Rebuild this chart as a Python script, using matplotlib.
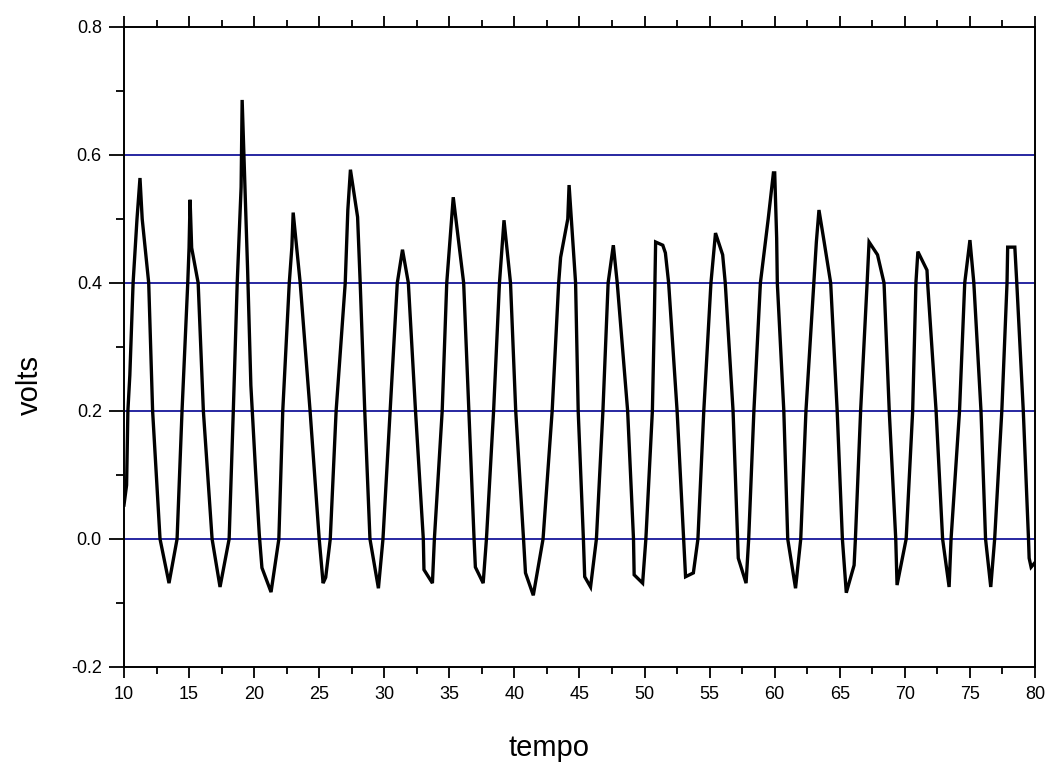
import matplotlib
matplotlib.use('Agg')
import matplotlib.pyplot as plt
from matplotlib.ticker import MultipleLocator, FormatStrFormatter

# signal vertices (tempo, volts)
tempo = [
    10.0, 10.2, 10.3, 10.45, 10.7, 11.0, 11.23, 11.4, 11.9, 12.2, 12.77, 13.46,
    14.08, 14.46, 14.9, 15.0, 15.08, 15.2, 15.7, 16.1, 16.77, 17.38,
    18.08, 18.4, 18.7, 19.0, 19.08, 19.25, 19.5, 19.75, 20.1, 20.4, 20.6, 21.3,
    21.9, 22.2, 22.7, 22.9, 23.0, 23.54, 24.3, 25.0, 25.3, 25.5,
    25.85, 26.3, 27.0, 27.2, 27.4, 27.95, 28.15, 28.5, 28.9, 29.55,
    29.9, 30.45, 31.0, 31.4, 31.85, 32.4, 33.0, 33.05, 33.7,
    33.85, 34.45, 34.8, 35.3, 36.1, 36.5, 36.9, 37.0, 37.6,
    37.85, 38.4, 38.85, 39.2, 39.7, 40.1, 40.7, 40.85, 41.45,
    42.2, 42.9, 43.4, 43.55, 44.1, 44.2, 44.7, 44.9, 45.3, 45.4, 45.85,
    46.3, 46.8, 47.2, 47.6, 47.9, 48.7, 49.15, 49.2, 49.85,
    50.1, 50.6, 50.75, 50.85, 51.4, 51.6, 51.85, 52.5, 53.0, 53.15, 53.75,
    54.1, 54.55, 55.1, 55.45, 56.0, 56.2, 56.8, 57.15, 57.2, 57.8,
    58.0, 58.4, 58.9, 59.5, 59.9, 60.0, 60.15, 60.2, 60.7, 61.0, 61.6,
    62.0, 62.4, 63.0, 63.2, 63.4, 63.8, 64.3, 64.8, 65.2, 65.5, 66.1,
    66.2, 66.6, 67.1, 67.25, 67.9, 68.4, 68.8, 69.3, 69.4,
    70.1, 70.6, 70.85, 71.0, 71.7, 71.75, 72.4, 72.9, 73.4,
    73.55, 74.2, 74.6, 75.0, 75.3, 75.85, 76.2, 76.6,
    76.9, 77.45, 77.85, 77.9, 78.45, 78.6, 79.1, 79.5, 79.55, 79.7, 79.95,
]
volts = [
    0.053, 0.084, 0.2, 0.256, 0.4, 0.5, 0.564, 0.5, 0.4, 0.2, 0.0, -0.069,
    0.0, 0.2, 0.4, 0.455, 0.53, 0.455, 0.4, 0.2, 0.0, -0.075,
    0.0, 0.2, 0.4, 0.55, 0.686, 0.58, 0.42, 0.24, 0.11, 0.006, -0.045, -0.083,
    0.0, 0.2, 0.4, 0.456, 0.51, 0.4, 0.2, 0.0, -0.069, -0.06,
    0.0, 0.2, 0.4, 0.514, 0.577, 0.503, 0.4, 0.2, 0.0, -0.077,
    0.0, 0.2, 0.4, 0.452, 0.4, 0.2, 0.0, -0.048, -0.069,
    0.0, 0.2, 0.4, 0.534, 0.4, 0.2, 0.0, -0.044, -0.069,
    0.0, 0.2, 0.4, 0.498, 0.4, 0.2, 0.0, -0.053, -0.088,
    0.0, 0.2, 0.4, 0.44, 0.5, 0.553, 0.4, 0.2, 0.0, -0.059, -0.075,
    0.0, 0.2, 0.4, 0.459, 0.4, 0.2, 0.0, -0.056, -0.069,
    0.0, 0.2, 0.345, 0.464, 0.459, 0.447, 0.4, 0.2, 0.0, -0.059, -0.053,
    0.0, 0.2, 0.4, 0.478, 0.444, 0.4, 0.2, 0.0, -0.03, -0.069,
    0.0, 0.2, 0.4, 0.5, 0.572, 0.572, 0.47, 0.4, 0.2, 0.0, -0.077,
    0.0, 0.2, 0.4, 0.464, 0.514, 0.464, 0.4, 0.2, 0.0, -0.084, -0.041,
    0.0, 0.2, 0.4, 0.464, 0.444, 0.4, 0.2, 0.0, -0.072,
    0.0, 0.2, 0.4, 0.449, 0.42, 0.4, 0.2, 0.0, -0.075,
    0.0, 0.2, 0.4, 0.467, 0.4, 0.2, 0.0, -0.075,
    0.0, 0.2, 0.4, 0.456, 0.456, 0.4, 0.2, 0.0, -0.03, -0.044, -0.038,
]
ref_levels = [0.0, 0.2, 0.4, 0.6]

plt.rcParams['font.family'] = ['Liberation Sans Narrow', 'Liberation Sans', 'DejaVu Sans']

fig = plt.figure(figsize=(10.48, 7.62), dpi=100)
ax = fig.add_axes([0.1183, 0.1247, 0.8693, 0.8399])

for lvl in ref_levels:
    ax.axhline(lvl, color='#16169a', lw=1.3, zorder=1)
ax.plot(tempo, volts, color='black', lw=2.4, solid_joinstyle='miter', zorder=2)

ax.set_xlim(10, 80)
ax.set_ylim(-0.2, 0.8)
ax.xaxis.set_major_locator(MultipleLocator(5))
ax.xaxis.set_minor_locator(MultipleLocator(2.5))
ax.yaxis.set_major_locator(MultipleLocator(0.2))
ax.yaxis.set_minor_locator(MultipleLocator(0.1))
ax.yaxis.set_major_formatter(FormatStrFormatter('%.1f'))

ax.tick_params(axis='x', which='major', direction='out', length=8, width=1.3,
               top=True, labelsize=13, pad=6)
ax.tick_params(axis='x', which='minor', direction='out', length=5, width=1.3, top=True)
ax.tick_params(axis='y', which='major', direction='out', length=11, width=1.3,
               labelsize=13, pad=5)
ax.tick_params(axis='y', which='minor', direction='out', length=6, width=1.3)
for sp in ax.spines.values():
    sp.set_linewidth(1.4)

ax.set_xlabel('tempo', fontsize=21)
ax.set_ylabel('volts', fontsize=21)
ax.xaxis.set_label_coords(0.466, -0.105)
ax.yaxis.set_label_coords(-0.088, 0.44)

fig.savefig('out.png', dpi=100)
